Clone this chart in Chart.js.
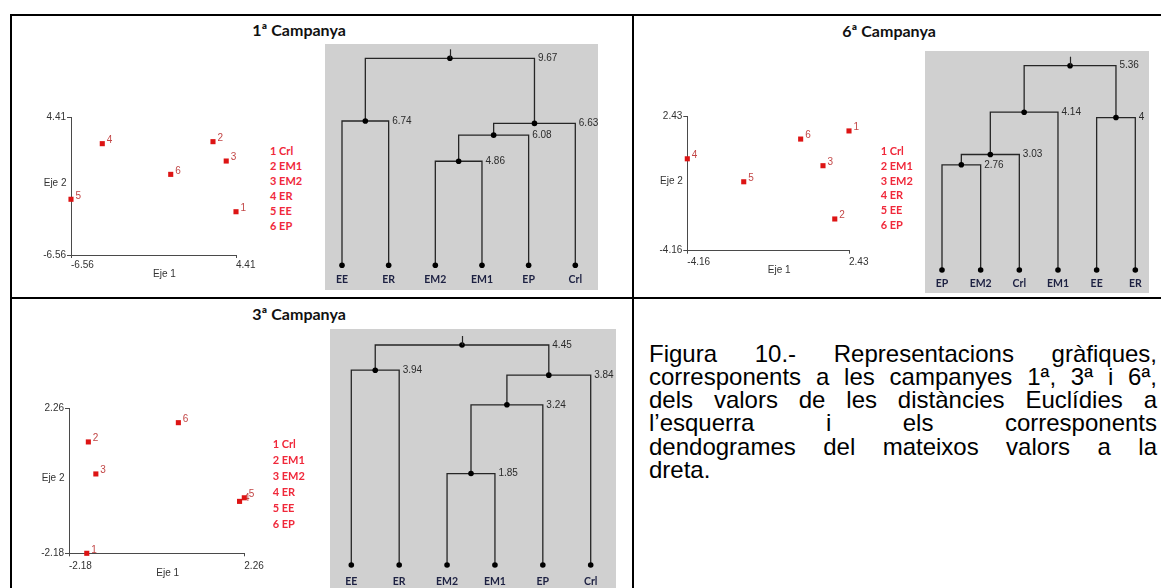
<!DOCTYPE html>
<html lang="ca">
<head>
<meta charset="utf-8">
<title>Figura 10</title>
<script src="https://cdn.jsdelivr.net/npm/chart.js@4.4.1/dist/chart.umd.min.js"></script>
<style>
  html, body { margin: 0; padding: 0; background: #fff; }
  body { position: relative; width: 1161px; height: 588px; overflow: hidden; }
  .rule { position: absolute; background: #000; }
  .title { position: absolute; width: 300px; text-align: center; font: bold 16px Lato, "Open Sans", sans-serif; color: #111; line-height: 18px; white-space: nowrap; }
  .legend { position: absolute; font: bold 11px Lato, "Open Sans", sans-serif; color: #f0283a; white-space: nowrap; }
  canvas { position: absolute; }
  .caption { position: absolute; left: 649px; top: 341.7px; width: 508px; font: 24px "Liberation Sans", Arial, sans-serif; line-height: 23.2px; color: #000; }
  .caption div { text-align: justify; text-align-last: justify; white-space: nowrap; }
  .caption div.last { text-align: left; text-align-last: left; }
</style>
</head>
<body>
<div class="rule" style="left:10px;top:14px;width:1151px;height:2px"></div>
<div class="rule" style="left:10px;top:297px;width:1151px;height:2px"></div>
<div class="rule" style="left:10px;top:14px;width:2px;height:574px"></div>
<div class="rule" style="left:632px;top:14px;width:2px;height:574px"></div>

<div class="caption">
  <div>Figura 10.- Representacions gràfiques,</div>
  <div>corresponents a les campanyes 1ª, 3ª i 6ª,</div>
  <div>dels valors de les distàncies Euclídies a</div>
  <div>l’esquerra i els corresponents</div>
  <div>dendogrames del mateixos valors a la</div>
  <div class="last">dreta.</div>
</div>

<script>
// Sampling stations, numbered 1..6 in the scatter plots
const stations = ['Crl', 'EM1', 'EM2', 'ER', 'EE', 'EP'];

// 1a campanya
const c1Ticks = [-6.56, 4.41];
const c1X = [4.41, 2.88, 3.76, -4.48, -6.56, 0.07];
const c1Y = [-3.12, 2.45, 0.91, 2.29, -2.13, -0.15];
const c1Leaves = ['EE', 'ER', 'EM2', 'EM1', 'EP', 'Crl'];
const c1Joins = [['EM2', 'EM1'], ['#0', 'EP'], ['#1', 'Crl'], ['EE', 'ER'], ['#3', '#2']];
const c1Heights = [4.86, 6.08, 6.63, 6.74, 9.67];

// 6a campanya
const c6Ticks = [-4.16, 2.43];
const c6X = [2.43, 1.85, 1.37, -4.16, -1.86, 0.46];
const c6Y = [1.73, -2.60, 0.02, 0.36, -0.77, 1.33];
const c6Leaves = ['EP', 'EM2', 'Crl', 'EM1', 'EE', 'ER'];
const c6Joins = [['EP', 'EM2'], ['#0', 'Crl'], ['#1', 'EM1'], ['EE', 'ER'], ['#2', '#3']];
const c6Heights = [2.76, 3.03, 4.14, 4, 5.36];

// 3a campanya
const c3Ticks = [-2.18, 2.26];
const c3X = [-1.73, -1.69, -1.50, 2.14, 2.26, 0.59];
const c3Y = [-2.18, 1.23, 0.25, -0.59, -0.48, 1.82];
const c3Leaves = ['EE', 'ER', 'EM2', 'EM1', 'EP', 'Crl'];
const c3Joins = [['EM2', 'EM1'], ['#0', 'EP'], ['#1', 'Crl'], ['EE', 'ER'], ['#3', '#2']];
const c3Heights = [1.85, 3.24, 3.84, 3.94, 4.45];

// Page layout of each panel (pixels)
const panels = [
  { title: '1ª Campanya', titleX: 299, titleY: 30,
    xs: c1X, ys: c1Y, ticks: c1Ticks, plot: { l: 71, r: 236, t: 117, b: 255 }, xPad: 1.5,
    legend: { x: 270, y: 143.2, lh: 15 },
    leaves: c1Leaves, joins: c1Joins, heights: c1Heights,
    box: { l: 325, t: 44, w: 273, h: 246 }, leafL: 342, leafR: 575.3, rootY: 58.3, leafY: 265.3, labelPad: 8.4 },
  { title: '6ª Campanya', titleX: 889, titleY: 31,
    xs: c6X, ys: c6Y, ticks: c6Ticks, plot: { l: 687.3, r: 849, t: 116.7, b: 250.7 }, xPad: 2.3,
    legend: { x: 880.7, y: 144.3, lh: 14.7 },
    leaves: c6Leaves, joins: c6Joins, heights: c6Heights,
    box: { l: 925, t: 51, w: 224, h: 242 }, leafL: 942, leafR: 1135.3, rootY: 65.7, leafY: 270, labelPad: 7 },
  { title: '3ª Campanya', titleX: 299, titleY: 314,
    xs: c3X, ys: c3Y, ticks: c3Ticks, plot: { l: 69, r: 244.3, t: 408.3, b: 553.3 }, xPad: 4.4,
    legend: { x: 272.7, y: 436.4, lh: 15.9 },
    leaves: c3Leaves, joins: c3Joins, heights: c3Heights,
    box: { l: 330, t: 329, w: 286, h: 263 }, leafL: 351.3, leafR: 590.7, rootY: 345, leafY: 565, labelPad: 10.4 }
];

const AXIS_W = 48, AXIS_H = 30;
const TICK_FONT = { family: '"Liberation Sans", Arial, sans-serif', size: 10 };

function makeCanvas(l, t, w, h, bg) {
  const c = document.createElement('canvas');
  c.width = w; c.height = h;
  c.style.left = l + 'px'; c.style.top = t + 'px';
  c.style.width = w + 'px'; c.style.height = h + 'px';
  if (bg) c.style.background = bg;
  document.body.appendChild(c);
  return c;
}

// Numbers next to each scatter point, drawn beneath the markers
const pointNumbers = {
  id: 'pointNumbers',
  beforeDatasetsDraw(chart) {
    const ctx = chart.ctx;
    ctx.save();
    ctx.font = '10px "Liberation Sans", Arial, sans-serif';
    ctx.fillStyle = '#c24646';
    ctx.textAlign = 'left';
    ctx.textBaseline = 'middle';
    chart.getDatasetMeta(0).data.forEach((pt, i) => ctx.fillText(String(i + 1), pt.x + 4.5, pt.y - 3.5));
    ctx.restore();
  }
};

// "Eje 1" / "Eje 2" captions beside the axes
const axisNames = {
  id: 'axisNames',
  afterDraw(chart) {
    const a = chart.chartArea, ctx = chart.ctx;
    ctx.save();
    ctx.font = '10px "Liberation Sans", Arial, sans-serif';
    ctx.fillStyle = '#333';
    ctx.textBaseline = 'middle';
    ctx.textAlign = 'center';
    ctx.fillText('Eje 1', (a.left + a.right) / 2 + 11, a.bottom + 19.5);
    ctx.textAlign = 'right';
    ctx.fillText('Eje 2', a.left - 4.5, (a.top + a.bottom) / 2 - 2.8);
    ctx.restore();
  }
};

function scatterChart(p) {
  const a = p.plot;
  const left = Math.floor(a.l - AXIS_W - 2), top = Math.floor(a.t - 16);
  const width = Math.ceil(a.r + 34 - left), height = Math.ceil(a.b + AXIS_H - top);
  const canvas = makeCanvas(left, top, width, height);
  const pts = p.xs.map((x, i) => ({ x, y: p.ys[i] }));
  const setTicks = s => { s.ticks = p.ticks.map(v => ({ value: v })); };
  new Chart(canvas, {
    type: 'scatter',
    data: { datasets: [{ data: pts, pointStyle: 'rect', pointRadius: 3.6, pointHoverRadius: 3.6,
                         backgroundColor: '#dd1414', borderWidth: 0, clip: false }] },
    options: {
      responsive: false, animation: false, events: [],
      layout: { padding: { left: a.l - left - AXIS_W, top: a.t - top, right: left + width - a.r, bottom: 0 } },
      plugins: { legend: { display: false }, tooltip: { enabled: false } },
      scales: {
        x: { type: 'linear', min: p.ticks[0], max: p.ticks[1], afterBuildTicks: setTicks,
             afterFit: s => { s.height = top + height - a.b; },
             grid: { drawOnChartArea: false, tickLength: 3, color: '#4a4a4a' },
             border: { color: '#4a4a4a', width: 1 },
             ticks: { align: 'start', padding: p.xPad, color: '#333', font: TICK_FONT, maxRotation: 0,
                      callback: v => String(v) } },
        y: { type: 'linear', min: p.ticks[0], max: p.ticks[1], afterBuildTicks: setTicks,
             afterFit: s => { s.width = AXIS_W; },
             grid: { drawOnChartArea: false, tickLength: 4, color: '#4a4a4a' },
             border: { color: '#4a4a4a', width: 1 },
             ticks: { padding: 1, color: '#333', font: TICK_FONT, callback: v => String(v) } }
      }
    },
    plugins: [pointNumbers, axisNames]
  });
}

function dendrogramChart(p) {
  const b = p.box;
  const canvas = makeCanvas(b.l, b.t, b.w, b.h, '#d0d0d0');
  // leaves sit at their order along x; each join sits midway over its two branches
  const pos = {};
  p.leaves.forEach((n, i) => { pos[n] = { x: i, y: 0 }; });
  const links = [], nodes = [];
  p.joins.forEach((pair, k) => {
    const u = pos[pair[0]], v = pos[pair[1]], h = p.heights[k];
    links.push([{ x: u.x, y: u.y }, { x: u.x, y: h }, { x: v.x, y: h }, { x: v.x, y: v.y }]);
    const node = { x: (u.x + v.x) / 2, y: h, right: Math.max(u.x, v.x) };
    pos['#' + k] = node;
    nodes.push(node);
  });
  const dots = p.leaves.map((n, i) => ({ x: i, y: 0 })).concat(nodes.map(n => ({ x: n.x, y: n.y })));

  const branchValues = {
    id: 'branchValues',
    afterDatasetsDraw(chart) {
      const xs = chart.scales.x, ys = chart.scales.y, ctx = chart.ctx;
      ctx.save();
      ctx.font = '10px "Liberation Sans", Arial, sans-serif';
      ctx.fillStyle = '#2b2b2b';
      ctx.textAlign = 'left';
      ctx.textBaseline = 'middle';
      nodes.forEach(n => ctx.fillText(String(n.y), xs.getPixelForValue(n.right) + 3.5, ys.getPixelForValue(n.y)));
      const root = nodes[nodes.length - 1];
      const rx = Math.round(xs.getPixelForValue(root.x)) + 0.5, ry = ys.getPixelForValue(root.y);
      ctx.strokeStyle = '#262626';
      ctx.lineWidth = 1.2;
      ctx.beginPath(); ctx.moveTo(rx, ry); ctx.lineTo(rx, ry - 9); ctx.stroke();
      ctx.restore();
    }
  };

  const datasets = [{ data: dots, pointRadius: 2.8, pointHoverRadius: 2.8, backgroundColor: '#000',
                      borderWidth: 0, showLine: false, clip: false }]
    .concat(links.map(l => ({ data: l, showLine: true, pointRadius: 0, borderColor: '#262626',
                              borderWidth: 1.3, tension: 0, clip: false })));

  new Chart(canvas, {
    type: 'scatter',
    data: { datasets },
    options: {
      responsive: false, animation: false, events: [],
      layout: { padding: { left: p.leafL - b.l, right: b.l + b.w - p.leafR, top: p.rootY - b.t, bottom: 0 } },
      plugins: { legend: { display: false }, tooltip: { enabled: false } },
      scales: {
        x: { type: 'linear', min: 0, max: p.leaves.length - 1,
             afterBuildTicks: s => { s.ticks = p.leaves.map((_, i) => ({ value: i })); },
             afterFit: s => { s.height = b.t + b.h - p.leafY; },
             grid: { display: false, drawTicks: false }, border: { display: false },
             ticks: { autoSkip: false, maxRotation: 0, padding: p.labelPad, color: '#1d2142',
                      font: { family: 'Lato, "Open Sans", sans-serif', weight: 'bold', size: 10.5 },
                      callback: (v, i) => p.leaves[i] } },
        y: { display: false, min: 0, max: Math.max(...p.heights) }
      }
    },
    plugins: [branchValues]
  });
}

function addTitle(p) {
  const d = document.createElement('div');
  d.className = 'title';
  d.textContent = p.title;
  d.style.left = (p.titleX - 150) + 'px';
  d.style.top = (p.titleY - 9) + 'px';
  document.body.appendChild(d);
}

function addLegend(p) {
  const d = document.createElement('div');
  d.className = 'legend';
  d.style.left = p.legend.x + 'px';
  d.style.top = p.legend.y + 'px';
  d.style.lineHeight = p.legend.lh + 'px';
  d.innerHTML = stations.map((s, i) => (i + 1) + ' ' + s).join('<br>');
  document.body.appendChild(d);
}

panels.forEach(p => {
  addTitle(p);
  scatterChart(p);
  addLegend(p);
  dendrogramChart(p);
});
</script>
</body>
</html>
